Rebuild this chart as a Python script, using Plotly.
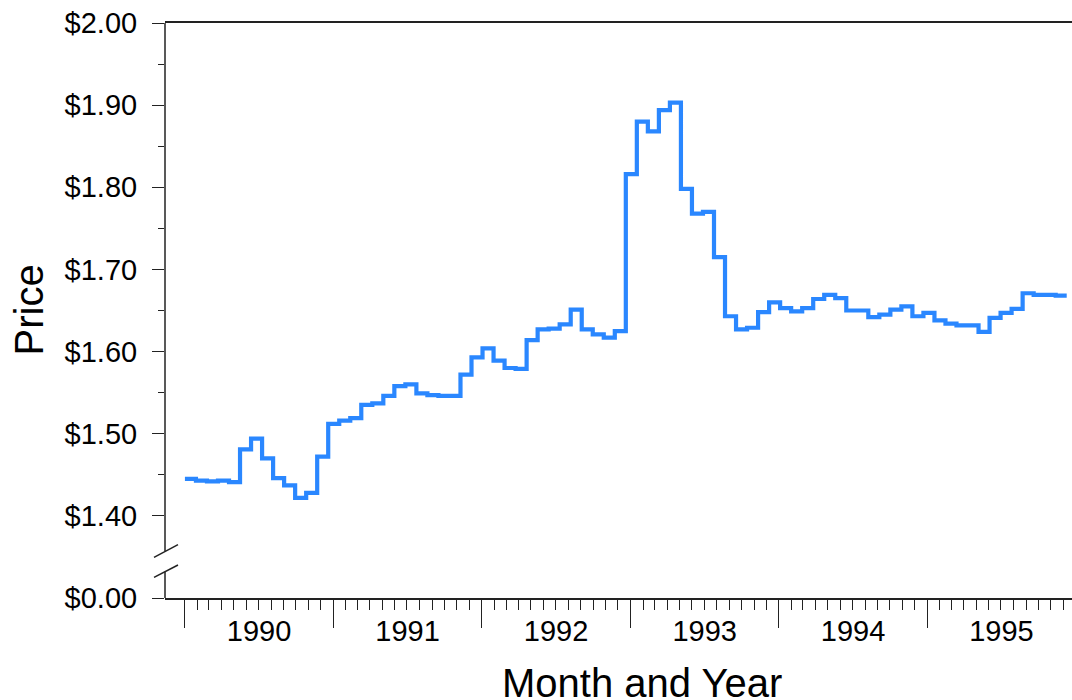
import pandas as pd
import plotly.graph_objects as go

# ---- data ----
prices = [
    1.445, 1.443, 1.442, 1.443, 1.441, 1.481, 1.494, 1.470, 1.446, 1.437,
    1.422, 1.428, 1.472, 1.512, 1.516, 1.519, 1.535, 1.537, 1.546, 1.558,
    1.560, 1.549, 1.547, 1.546, 1.546, 1.572, 1.593, 1.604, 1.589, 1.580,
    1.579, 1.614, 1.627, 1.628, 1.633, 1.651, 1.627, 1.621, 1.617, 1.625,
    1.816, 1.880, 1.868, 1.894, 1.903, 1.798, 1.768, 1.770, 1.715, 1.643,
    1.627, 1.629, 1.648, 1.660, 1.653, 1.649, 1.653, 1.664, 1.669, 1.665,
    1.650, 1.650, 1.642, 1.645, 1.651, 1.655, 1.643, 1.647, 1.638, 1.634,
    1.632, 1.632, 1.624, 1.641, 1.647, 1.652, 1.671, 1.669, 1.669, 1.668,
]
first_date = "1990-01-01"
last_date = "1995-12-10"

y_tick_vals = [1.30, 1.40, 1.50, 1.60, 1.70, 1.80, 1.90, 2.00]
y_tick_text = ["$0.00", "$1.40", "$1.50", "$1.60", "$1.70", "$1.80", "$1.90", "$2.00"]
y_minor_vals = [1.45, 1.55, 1.65, 1.75, 1.85, 1.95]

x_title = "Month and Year"
y_title = "Price"

# ---- build ----
bounds = pd.date_range(first_date, last_date, periods=len(prices) + 1)
xs = [d.strftime("%Y-%m-%d %H:%M") for d in bounds]
ys = prices + [prices[-1]]

minor_x = [d.strftime("%Y-%m-%d") for d in pd.date_range("1990-01-01", "1995-12-01", freq="MS")]

FONT = "Liberation Sans, Arial, Helvetica, sans-serif"
AX = "#222222"

fig = go.Figure()
fig.add_trace(go.Scatter(
    x=xs, y=ys, mode="lines", line=dict(color="#2a87ff", width=4.2, shape="hv"),
    hoverinfo="skip", showlegend=False,
))

fig.update_layout(
    width=1072, height=700,
    margin=dict(l=165, r=0, t=23, b=102),
    paper_bgcolor="white", plot_bgcolor="white",
    font=dict(family=FONT, color="black"),
    xaxis=dict(
        type="date", range=["1989-11-13", "1995-12-23"], automargin=False,
        showline=True, linecolor=AX, linewidth=1.5, mirror=True,
        showgrid=False, zeroline=False,
        ticks="outside", ticklen=28, tickwidth=1.3, tickcolor=AX,
        tick0="1990-01-01", dtick="M12", tickformat="%Y", ticklabelmode="period",
        tickfont=dict(size=29, family=FONT, color="black"),
        minor=dict(tickmode="array", tickvals=minor_x, ticks="outside",
                   ticklen=10, tickwidth=1.3, tickcolor=AX, showgrid=False),
        ticklabelstandoff=-22,
    ),
    yaxis=dict(
        range=[1.30, 2.00], automargin=False,
        showline=False, showgrid=False, zeroline=False,
        tickmode="array", tickvals=y_tick_vals, ticktext=y_tick_text,
        ticks="outside", ticklen=12, tickwidth=1.3, tickcolor=AX,
        tickfont=dict(size=29, family=FONT, color="black"),
        minor=dict(tickmode="array", tickvals=y_minor_vals, ticks="outside",
                   ticklen=6, tickwidth=1.3, tickcolor=AX, showgrid=False),
        ticklabelstandoff=9,
    ),
)

# broken y-axis line
line_style = dict(color=AX, width=1.5)
fig.add_shape(type="line", xref="paper", yref="y", x0=0, x1=0, y0=1.357, y1=2.00, line=line_style)
fig.add_shape(type="line", xref="paper", yref="y", x0=0, x1=0, y0=1.30, y1=1.332, line=line_style)
for ya, yb in [(1.3495, 1.3650), (1.3252, 1.3402)]:
    fig.add_shape(type="line", xref="paper", xsizemode="pixel", xanchor=0,
                  x0=-11, x1=13, yref="y", y0=ya, y1=yb, line=line_style)

fig.add_annotation(text=x_title, xref="paper", yref="paper", x=0.526, y=0,
                   xanchor="center", yanchor="middle", yshift=-85, showarrow=False,
                   font=dict(size=40, family=FONT, color="black"))
fig.add_annotation(text=y_title, xref="paper", yref="paper", x=0, y=0.5,
                   xanchor="center", yanchor="middle", xshift=-137, textangle=-90,
                   showarrow=False, font=dict(size=40, family=FONT, color="black"))

fig.write_html(
    "out.html",
    config={"displayModeBar": False},
    post_script="document.body.style.margin='0';document.body.style.overflow='hidden';",
)
